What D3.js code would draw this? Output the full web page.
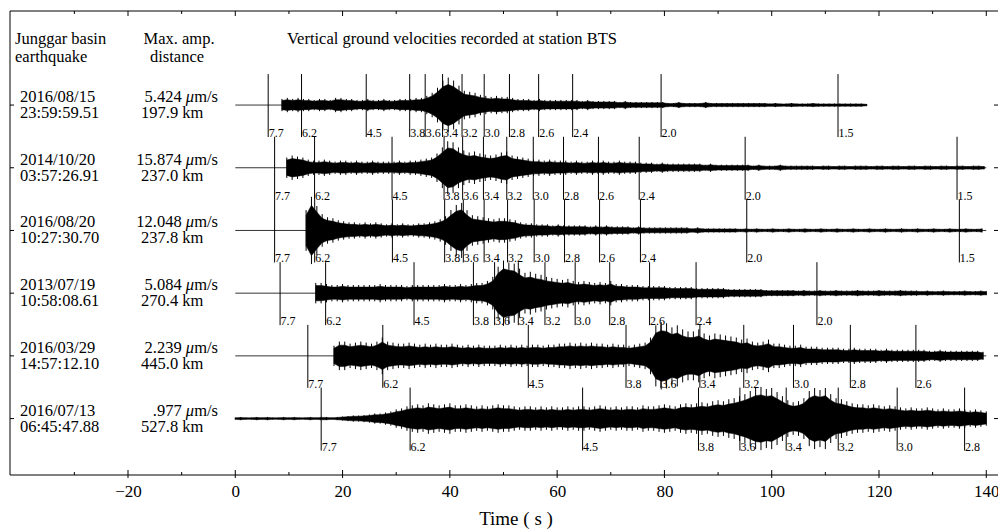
<!DOCTYPE html>
<html>
<head>
<meta charset="utf-8">
<script src="https://cdn.jsdelivr.net/npm/d3@7"></script>
<style>
  body { margin: 0; background: #fff; }
  svg { display: block; font-family: "Liberation Serif", "Times New Roman", serif; }
</style>
</head>
<body>
<div id="chart"></div>
<script>
// ---- data ----
var dates = ["2016/08/15", "2014/10/20", "2016/08/20", "2013/07/19", "2016/03/29", "2016/07/13"];
var clock = ["23:59:59.51", "03:57:26.91", "10:27:30.70", "10:58:08.61", "14:57:12.10", "06:45:47.88"];
var maxAmp = ["5.424", "15.874", "12.048", "5.084", "2.239", ".977"];
var distances = ["197.9 km", "237.0 km", "237.8 km", "270.4 km", "445.0 km", "527.8 km"];

var timeTicks = [-30, -20, -10, 0, 10, 20, 30, 40, 50, 60, 70, 80, 90, 100, 110, 120, 130, 140];
var timeLabels = [-20, 0, 20, 40, 60, 80, 100, 120, 140];

// group velocity markers (km/s) and their times (s) for each trace
var velLabels = ["7.7", "6.2", "4.5", "3.8", "3.6", "3.4", "3.2", "3.0", "2.8", "2.6", "2.4", "2.0", "1.5"];
var markTimes1 = [6.13, 12.35, 24.41, 32.51, 35.40, 38.64, 42.27, 46.40, 51.11, 56.55, 62.89, 79.38, 112.36];
var markTimes2 = [7.33, 14.78, 29.22, 38.92, 42.38, 46.26, 50.61, 55.55, 61.19, 67.70, 75.30, 95.05, 134.55];
var markTimes3 = [7.33, 14.80, 29.29, 39.03, 42.51, 46.39, 50.76, 55.72, 61.38, 67.91, 75.53, 95.35, 134.98];
var markTimes4 = [8.35, 16.84, 33.32, 44.39, 48.34, 52.76, 57.73, 63.36, 69.80, 77.23, 85.90, 108.43];
var markTimes5 = [13.52, 27.50, 54.62, 72.84, 79.34, 86.61, 94.79, 104.06, 114.66, 126.88];
var markTimes6 = [16.01, 32.59, 64.75, 86.35, 94.07, 102.70, 112.40, 123.39, 135.96];

// waveform envelopes: onset time (s), end time (s), peak amplitude every 1 s from onset (relative units)
var onsets = [8.7, 9.6, 13.2, 15.0, 18.4, 0];
var endTimes = [117.7, 140, 140, 140, 140, 140];

var amp1 = [6,7,6,7,6,6,5,6,6,5,7,7,6,6,5,5,6,5,5,6,5,5,6,6,6,7,7,9,12,17,24,27,24,19,14,13,12,10,9,8,
  9,8,8,7,6,6,6,5,6,5,5,5,5,5,5,5,4,5,4,4,4,4,4,3,4,3,3,3,3,3,3,3,2,2,3,2,2,2,2,3,
  2,2,2,2,2,2,2,2,2,2,2,1.5,2,1.5,1.5,2,1.5,1.5,1.5,2,1.5,1.5,1.5,1.5,1.5,1.5,1.5,1.5,1.5,1];
var amp2 = [10,12,11,10,8,7,7,8,7,6,7,7,6,7,6,6,7,6,6,6,6,7,6,7,7,8,9,10,14,20,26,25,20,17,15,16,14,13,12,13,
  15,16,12,11,10,9,8,8,7,8,7,7,7,6,7,6,6,7,6,7,6,6,7,6,6,6,5,5,5,4,5,4,4,4,4,4,4,4,3,4,
  3,3,3,3,3,3,3,2,3,2,2,2,3,2,2,2,2,2,2,1.5,2,2,1.5,2,2,1.5,2,2,2,1.5,2,2,1.5,2,2,1.5,2,2,1.5,2,
  2,1.5,2,2,1.5,2,2,1.5,2,2,1.5];
var amp3 = [20,33,24,16,13,12,10,9,8,8,7,8,7,8,7,6,7,6,7,6,6,7,7,8,9,11,14,20,25,27,20,15,14,13,12,11,12,12,11,10,
  8,7,7,6,6,6,5,6,5,5,5,5,5,4,5,4,5,4,4,4,4,3,4,3,3,3,3,3,3,3,3,3,2,3,2,2,2,2,2,2,
  2,1.5,2,1.5,2,1.5,1.5,2,1.5,1.5,2,1.5,1.5,2,1.5,1.5,2,1.5,1.5,2,1.5,1.5,2,1.5,1.5,2,1.5,1.5,2,1.5,
  1.5,2,1.5,1.5,2,1.5,1.5,2,1.5,1.5,2,1.5,1.5,2,1.5,1.5,2];
var amp4 = [10,10,9,8,8,9,8,8,8,8,8,8,9,8,8,8,8,7,8,8,8,8,8,8,9,8,8,9,8,9,10,10,12,16,26,32,30,29,24,20,
  21,19,18,16,15,14,13,14,12,11,12,11,10,11,10,12,9,9,8,8,8,7,7,7,7,7,6,6,6,6,6,5,5,5,5,5,5,4,4,4,
  4,4,4,4,3,3,3,3,3,3,2.5,3,2.5,2.5,3,2.5,2.5,3,2.5,2.5,2.5,3,2.5,2.5,2.5,3,2.5,2.5,2.5,3,2.5,2.5,2.5,2,2.5,2,2,2.5,2,2,2,
  2.5,2,2,2.5,2];
var amp5 = [10,14,14,12,13,14,13,12,14,18,14,13,12,12,13,12,11,12,11,12,11,11,12,11,10,11,10,11,10,10,10,11,10,11,10,11,10,11,11,10,
  11,11,12,12,13,12,13,12,13,12,12,11,12,11,11,10,11,12,13,18,30,33,32,28,30,26,24,24,26,22,20,22,21,20,19,18,16,17,14,13,
  14,16,12,12,11,10,10,11,9,9,9,8,8,8,8,7,7,8,7,7,7,7,6,7,6,6,6,6,6,6,6,5,5,6,5,5,5,5,5,5,5,4];
var amp6 = [1,1.5,1,1,1.5,1,1.5,1,1,1.5,1,1.5,1,1,1.5,1,1.5,1.5,1,1.5,2,2.5,3,3,3.5,4,5,5,6,7,9,10,12,13,14,13,15,14,13,14,
  15,13,13,14,13,12,13,12,13,14,13,13,12,11,12,12,11,12,11,12,11,11,12,11,12,12,11,12,13,12,11,12,11,12,12,11,13,12,12,13,
  14,13,12,14,15,14,15,16,15,17,18,17,19,20,22,24,27,30,31,29,30,26,22,18,16,17,20,27,30,28,30,24,20,19,17,15,14,14,13,14,
  13,12,13,12,11,10,11,10,10,11,10,9,10,9,9,10,9,8,9,8,7];

var amps = [amp1, amp2, amp3, amp4, amp5, amp6];
var markTimes = [markTimes1, markTimes2, markTimes3, markTimes4, markTimes5, markTimes6];

function drawChart() {
  var W = 998, H = 529;
  var pLeft = 10, pRight = 997, pTop = 11, pBottom = 475;

  var svg = d3.select("#chart").append("svg")
    .attr("width", W)
    .attr("height", H);

  var x = d3.scaleLinear().domain([-42, 142]).range([pLeft, pRight]);
  var y = d3.scaleLinear().domain([-1.5, 5.9]).range([pTop, pBottom]);   // trace index -> baseline
  var spacing = y(1) - y(0);
  var amp = d3.scaleLinear().domain([0, 32]).range([0, spacing * 0.52]);

  // frame (left, top, bottom)
  svg.append("path")
    .attr("d", "M" + W + "," + pTop + "H" + pLeft + "V" + pBottom + "H" + W)
    .attr("fill", "none")
    .attr("stroke", "#000")
    .attr("stroke-width", 1);

  // time ticks on top and bottom
  timeTicks.forEach(function(t) {
    var major = timeLabels.indexOf(t) >= 0;
    svg.append("line")
      .attr("x1", x(t)).attr("x2", x(t))
      .attr("y1", pTop).attr("y2", pTop + (major ? 5 : 3))
      .attr("stroke", "#000");
    svg.append("line")
      .attr("x1", x(t)).attr("x2", x(t))
      .attr("y1", pBottom - (major ? 5 : 3)).attr("y2", pBottom + (major ? 3 : 0))
      .attr("stroke", "#000");
  });

  var xAxis = d3.axisBottom(x)
    .tickValues(timeLabels)
    .tickSize(0)
    .tickPadding(10);

  svg.append("g")
    .attr("transform", "translate(0," + pBottom + ")")
    .call(xAxis)
    .call(function(g) { g.select(".domain").remove(); })
    .selectAll("text")
    .attr("font-family", "Liberation Serif")
    .attr("font-size", 17)
    .attr("fill", "#000");

  svg.append("text")
    .attr("x", 516).attr("y", 525)
    .attr("text-anchor", "middle")
    .attr("font-size", 19)
    .text("Time ( s )");

  // headers
  var head = svg.append("g").attr("font-size", 16.5).attr("fill", "#000");
  head.append("text").attr("x", 15).attr("y", 44).text("Junggar basin");
  head.append("text").attr("x", 15).attr("y", 62).text("earthquake");
  head.append("text").attr("x", 179).attr("y", 44).attr("text-anchor", "middle").text("Max. amp.");
  head.append("text").attr("x", 177).attr("y", 62).attr("text-anchor", "middle").text("distance");
  head.append("text").attr("x", 287).attr("y", 44).text("Vertical ground velocities recorded at station BTS");

  // dense core of each trace
  var core = d3.area()
    .x(function(d) { return x(d.t); })
    .y0(function(d) { return d.b + amp(d.a) * 0.75; })
    .y1(function(d) { return d.b - amp(d.a) * 0.75; });

  dates.forEach(function(dt, i) {
    var b = y(i);
    var g = svg.append("g");

    // side ticks
    g.append("line").attr("x1", pLeft).attr("x2", pLeft + 4).attr("y1", b).attr("y2", b).attr("stroke", "#000");
    g.append("line").attr("x1", pRight - 3).attr("x2", W).attr("y1", b).attr("y2", b).attr("stroke", "#000");

    // labels
    var lab = g.append("g").attr("font-size", 16.5).attr("fill", "#000");
    lab.append("text").attr("x", 20).attr("y", b - 3).text(dt);
    lab.append("text").attr("x", 20).attr("y", b + 13).text(clock[i]);
    var at = lab.append("text").attr("x", 218).attr("y", b - 3).attr("text-anchor", "end");
    at.append("tspan").text(maxAmp[i] + " ");
    at.append("tspan").attr("font-style", "italic").text("\u03bc");
    at.append("tspan").text("m/s");
    lab.append("text").attr("x", 141).attr("y", b + 13).text(distances[i]);

    // baseline
    g.append("line")
      .attr("x1", x(0)).attr("x2", x(endTimes[i]))
      .attr("y1", b).attr("y2", b)
      .attr("stroke", "#000").attr("stroke-width", 0.8);

    // waveform: dense core plus peak excursion per second
    var pts = amps[i].map(function(a, k) { return { t: Math.min(onsets[i] + k, endTimes[i]), a: a, b: b }; });
    g.append("path")
      .datum(pts)
      .attr("d", core)
      .attr("fill", "#000")
      .attr("stroke", "#000")
      .attr("stroke-width", 0.5);

    g.selectAll("line.peak")
      .data(pts)
      .enter()
      .append("line")
      .attr("class", "peak")
      .attr("x1", function(d) { return x(d.t); })
      .attr("x2", function(d) { return x(d.t); })
      .attr("y1", function(d) { return d.b - amp(d.a); })
      .attr("y2", function(d) { return d.b + amp(d.a); })
      .attr("stroke", "#000")
      .attr("stroke-width", 1);

    // velocity markers
    markTimes[i].forEach(function(t, k) {
      g.append("line")
        .attr("x1", x(t)).attr("x2", x(t))
        .attr("y1", b - 31).attr("y2", b + 32)
        .attr("stroke", "#000").attr("stroke-width", 1);
      g.append("text")
        .attr("x", x(t) + 0.5).attr("y", b + 32)
        .attr("font-size", 12)
        .text(velLabels[k]);
    });
  });
}

drawChart();
</script>
</body>
</html>
